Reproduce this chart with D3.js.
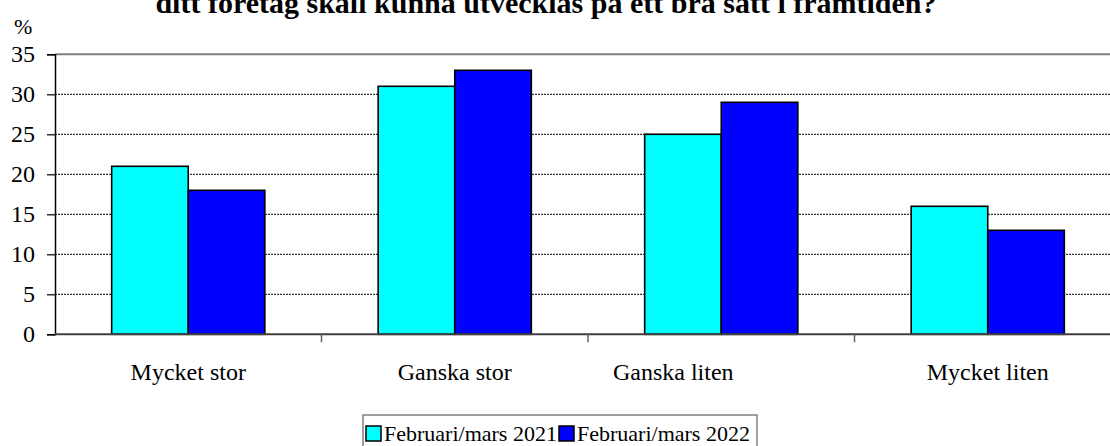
<!DOCTYPE html>
<html>
<head>
<meta charset="utf-8">
<script src="https://cdn.jsdelivr.net/npm/d3@7"></script>
<style>
  body { margin: 0; background: #fff; }
  svg { display: block; }
  svg text { font-family: "Liberation Serif", "Times New Roman", serif; fill: #000; }
</style>
</head>
<body>
<svg></svg>
<script>
let categories = ["Mycket stor", "Ganska stor", "Ganska liten", "Mycket liten"];
let seriesNames = ["Februari/mars 2021", "Februari/mars 2022"];
let values2021 = [21, 31, 25, 16];
let values2022 = [18, 33, 29, 13];
let yTicks = [0, 5, 10, 15, 20, 25, 30, 35];
let colors = ["#00ffff", "#0000ff"];
let title = "ditt företag skall kunna utvecklas på ett bra sätt i framtiden?";

let width = 1110;
let height = 446;
let marginLeft = 55;
let marginTop = 54.3;
let plotH = 280;
let bandW = 266.5;
let serif = "'Liberation Serif', 'Times New Roman', serif";
let svg = d3.select("svg");

let drawCanvas = () => {
    svg.attr("width", width);
    svg.attr("height", height);
}

let xScale, subScale, yScale;

let generateScales = () => {
    xScale = d3.scaleBand()
               .domain(categories)
               .range([marginLeft, marginLeft + bandW * categories.length])
               .padding(0);
    subScale = d3.scaleBand()
               .domain([0, 1])
               .range([0, xScale.bandwidth()])
               .paddingInner(0)
               .paddingOuter(0.74);
    yScale = d3.scaleLinear()
               .domain([0, 35])
               .range([marginTop + plotH, marginTop]);
}

let drawGrid = () => {
    svg.append("g")
       .selectAll("line")
       .data(yTicks.filter(d => d > 0 && d < 35))
       .join("line")
       .attr("x1", marginLeft).attr("x2", width)
       .attr("y1", d => yScale(d)).attr("y2", d => yScale(d))
       .attr("stroke", "#000")
       .attr("stroke-width", 1)
       .attr("stroke-dasharray", "2,1");

    // top border of plot area
    svg.append("line")
       .attr("x1", marginLeft).attr("x2", width)
       .attr("y1", yScale(35)).attr("y2", yScale(35))
       .attr("stroke", "#808080")
       .attr("stroke-width", 2);
}

let drawBars = () => {
    let rows = categories.map((c, i) => ({cat: c, vals: [values2021[i], values2022[i]]}));
    svg.append("g")
       .selectAll("g")
       .data(rows)
       .join("g")
       .attr("transform", d => "translate(" + xScale(d.cat) + ",0)")
       .selectAll("rect")
       .data(d => d.vals.map((v, j) => ({v: v, j: j})))
       .join("rect")
       .attr("x", d => subScale(d.j))
       .attr("width", subScale.bandwidth())
       .attr("y", d => yScale(d.v))
       .attr("height", d => yScale(0) - yScale(d.v))
       .attr("fill", d => colors[d.j])
       .attr("stroke", "#000")
       .attr("stroke-width", 1.6);
}

let generateAxis = () => {
    let yAxis = d3.axisLeft(yScale)
                  .tickValues(yTicks)
                  .tickSize(8)
                  .tickPadding(12);
    let gy = svg.append("g")
       .attr("transform", "translate(" + marginLeft + ",0)")
       .call(yAxis)
       .attr("font-family", null)
       .attr("font-size", null);
    gy.select(".domain").attr("stroke", "#000").attr("stroke-width", 1.5);
    gy.selectAll(".tick line").attr("stroke", "#000").attr("stroke-width", 1.2);
    gy.selectAll(".tick text")
      .style("font-family", serif)
      .style("font-size", "24px")
      .attr("fill", "#000");

    // x axis line
    svg.append("line")
       .attr("x1", marginLeft).attr("x2", width)
       .attr("y1", yScale(0)).attr("y2", yScale(0))
       .attr("stroke", "#404040")
       .attr("stroke-width", 2);

    // tick marks between categories
    svg.append("g")
       .selectAll("line")
       .data(categories.slice(1))
       .join("line")
       .attr("x1", d => xScale(d)).attr("x2", d => xScale(d))
       .attr("y1", yScale(0)).attr("y2", yScale(0) + 8)
       .attr("stroke", "#606060")
       .attr("stroke-width", 1.5);

    svg.append("g")
       .selectAll("text")
       .data(categories)
       .join("text")
       .attr("x", d => xScale(d) + xScale.bandwidth() / 2)
       .attr("dx", d => d === "Ganska liten" ? -48 : 0)
       .attr("y", 380)
       .attr("text-anchor", "middle")
       .style("font-size", "24px")
       .text(d => d);

    svg.append("text")
       .attr("x", 14)
       .attr("y", 34)
       .style("font-size", "22px")
       .text("%");
}

let drawTitle = () => {
    svg.append("text")
       .attr("x", 546)
       .attr("y", 13)
       .attr("text-anchor", "middle")
       .style("font-size", "30px")
       .style("font-weight", "bold")
       .text(title);
}

let drawLegend = () => {
    let lg = svg.append("g");
    lg.append("rect")
      .attr("x", 363).attr("y", 415)
      .attr("width", 394).attr("height", 50)
      .attr("fill", "#fff")
      .attr("stroke", "#808080")
      .attr("stroke-width", 1.5);
    let lx = d3.scaleOrdinal().domain(seriesNames).range([366, 559]);
    let items = lg.selectAll("g")
      .data(seriesNames)
      .join("g")
      .attr("transform", d => "translate(" + lx(d) + ",0)");
    items.append("rect")
      .attr("x", 0).attr("y", 426)
      .attr("width", 15).attr("height", 15)
      .attr("fill", (d, i) => colors[i])
      .attr("stroke", "#000")
      .attr("stroke-width", 1.5);
    items.append("text")
      .attr("x", 18).attr("y", 441)
      .style("font-size", "22px")
      .text(d => d);
}

drawCanvas();
generateScales();
drawGrid();
drawBars();
generateAxis();
drawTitle();
drawLegend();
</script>
</body>
</html>
